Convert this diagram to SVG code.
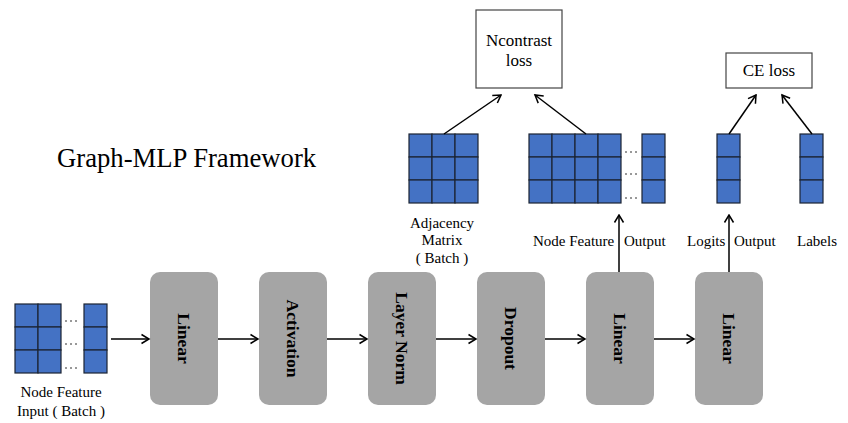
<svg xmlns="http://www.w3.org/2000/svg" width="848" height="423" viewBox="0 0 848 423">
<style>
  text { font-family: 'Liberation Serif', 'Times New Roman', Times, serif; fill: #000; }
  .lbl { font-size: 15px; }
  .title { font-size: 26.7px; }
  .loss { font-size: 17px; text-anchor: middle; }
  .blk { fill: #a5a5a5; }
  .blkt { font-size: 17.5px; font-weight: bold; text-anchor: middle; dominant-baseline: central; }
  .cell { fill: #4472c4; stroke: #1b2433; stroke-width: 1.2; }
  .dots { stroke: #333; stroke-width: 1; stroke-dasharray: 2 3; }
  .lossbox { fill: #fff; stroke: #444; stroke-width: 1.2; }
  .conn { stroke: #000; stroke-width: 1.5; fill: none; marker-end: url(#arr); }
</style>
<defs>
  <marker id="arr" markerUnits="userSpaceOnUse" viewBox="-1 -6 11 12" markerWidth="11" markerHeight="12" refX="8.5" refY="0" orient="auto">
    <path d="M1,-4.5 L8.5,0 L1,4.5" fill="none" stroke="#000" stroke-width="1.5"/>
  </marker>
</defs>
<rect width="848" height="423" fill="#fff"/>

<text class="title" x="57" y="167">Graph-MLP Framework</text>

<g id="input">
  <rect class="cell" x="15" y="304" width="23" height="23"/>
  <rect class="cell" x="38" y="304" width="23" height="23"/>
  <rect class="cell" x="15" y="327" width="23" height="23"/>
  <rect class="cell" x="38" y="327" width="23" height="23"/>
  <rect class="cell" x="15" y="350" width="23" height="23"/>
  <rect class="cell" x="38" y="350" width="23" height="23"/>
  <rect class="cell" x="84" y="304" width="23" height="23"/>
  <rect class="cell" x="84" y="327" width="23" height="23"/>
  <rect class="cell" x="84" y="350" width="23" height="23"/>
  <line class="dots" x1="65" y1="321" x2="80" y2="321"/>
  <line class="dots" x1="65" y1="344" x2="80" y2="344"/>
  <line class="dots" x1="65" y1="368" x2="80" y2="368"/>
  <text class="lbl" x="61" y="397" text-anchor="middle">Node Feature</text>
  <text class="lbl" x="61" y="416" text-anchor="middle">Input ( Batch )</text>
</g>

<g id="linear1"><rect class="blk" x="150" y="272" width="68" height="133" rx="10"/><text class="blkt" transform="translate(184,338.5) rotate(90)">Linear</text></g>
<g id="activation"><rect class="blk" x="259" y="272" width="68" height="133" rx="10"/><text class="blkt" transform="translate(293,338.5) rotate(90)">Activation</text></g>
<g id="layernorm"><rect class="blk" x="368" y="272" width="68" height="133" rx="10"/><text class="blkt" transform="translate(402,338.5) rotate(90)">Layer Norm</text></g>
<g id="dropout"><rect class="blk" x="477" y="272" width="68" height="133" rx="10"/><text class="blkt" transform="translate(511,338.5) rotate(90)">Dropout</text></g>
<g id="linear2"><rect class="blk" x="586" y="272" width="68" height="133" rx="10"/><text class="blkt" transform="translate(620,338.5) rotate(90)">Linear</text></g>
<g id="linear3"><rect class="blk" x="695" y="272" width="68" height="133" rx="10"/><text class="blkt" transform="translate(729,338.5) rotate(90)">Linear</text></g>

<g id="adjacency">
  <rect class="cell" x="409" y="134" width="23" height="23"/>
  <rect class="cell" x="432" y="134" width="23" height="23"/>
  <rect class="cell" x="455" y="134" width="23" height="23"/>
  <rect class="cell" x="409" y="157" width="23" height="23"/>
  <rect class="cell" x="432" y="157" width="23" height="23"/>
  <rect class="cell" x="455" y="157" width="23" height="23"/>
  <rect class="cell" x="409" y="180" width="23" height="23"/>
  <rect class="cell" x="432" y="180" width="23" height="23"/>
  <rect class="cell" x="455" y="180" width="23" height="23"/>
  <text class="lbl" x="442" y="228" text-anchor="middle">Adjacency</text>
  <text class="lbl" x="442" y="245" text-anchor="middle">Matrix</text>
  <text class="lbl" x="442" y="263" text-anchor="middle">( Batch )</text>
</g>

<g id="nodefeatureoutput">
  <rect class="cell" x="529" y="134" width="23" height="23"/>
  <rect class="cell" x="552" y="134" width="23" height="23"/>
  <rect class="cell" x="575" y="134" width="23" height="23"/>
  <rect class="cell" x="598" y="134" width="23" height="23"/>
  <rect class="cell" x="529" y="157" width="23" height="23"/>
  <rect class="cell" x="552" y="157" width="23" height="23"/>
  <rect class="cell" x="575" y="157" width="23" height="23"/>
  <rect class="cell" x="598" y="157" width="23" height="23"/>
  <rect class="cell" x="529" y="180" width="23" height="23"/>
  <rect class="cell" x="552" y="180" width="23" height="23"/>
  <rect class="cell" x="575" y="180" width="23" height="23"/>
  <rect class="cell" x="598" y="180" width="23" height="23"/>
  <rect class="cell" x="642" y="134" width="23" height="23"/>
  <rect class="cell" x="642" y="157" width="23" height="23"/>
  <rect class="cell" x="642" y="180" width="23" height="23"/>
  <line class="dots" x1="625" y1="152" x2="640" y2="152"/>
  <line class="dots" x1="625" y1="174" x2="640" y2="174"/>
  <line class="dots" x1="625" y1="198" x2="640" y2="198"/>
  <text class="lbl" x="533" y="246">Node Feature</text>
  <text class="lbl" x="624" y="246">Output</text>
</g>

<g id="logits">
  <rect class="cell" x="717" y="134" width="23" height="23"/>
  <rect class="cell" x="717" y="157" width="23" height="23"/>
  <rect class="cell" x="717" y="180" width="23" height="23"/>
  <text class="lbl" x="687" y="246">Logits</text>
  <text class="lbl" x="734" y="246">Output</text>
</g>

<g id="labels">
  <rect class="cell" x="800" y="134" width="23" height="23"/>
  <rect class="cell" x="800" y="157" width="23" height="23"/>
  <rect class="cell" x="800" y="180" width="23" height="23"/>
  <text class="lbl" x="797" y="246">Labels</text>
</g>

<g id="ncontrast">
  <rect class="lossbox" x="476" y="10" width="86" height="78"/>
  <text class="loss" x="519" y="46">Ncontrast</text>
  <text class="loss" x="519" y="66">loss</text>
</g>

<g id="celoss">
  <rect class="lossbox" x="726" y="53" width="86" height="35"/>
  <text class="loss" x="769" y="76">CE loss</text>
</g>

<g id="connectors">
  <line class="conn" x1="111" y1="339" x2="149" y2="339"/>
  <line class="conn" x1="218" y1="339" x2="258" y2="339"/>
  <line class="conn" x1="327" y1="339" x2="367" y2="339"/>
  <line class="conn" x1="436" y1="339" x2="476" y2="339"/>
  <line class="conn" x1="545" y1="339" x2="585" y2="339"/>
  <line class="conn" x1="654" y1="339" x2="694" y2="339"/>
  <line class="conn" x1="619" y1="272" x2="619" y2="215"/>
  <line class="conn" x1="729" y1="272" x2="729" y2="215"/>
  <line class="conn" x1="444" y1="134" x2="501" y2="95"/>
  <line class="conn" x1="586" y1="134" x2="535" y2="95"/>
  <line class="conn" x1="729" y1="134" x2="756" y2="95"/>
  <line class="conn" x1="812" y1="134" x2="782" y2="95"/>
</g>
</svg>
